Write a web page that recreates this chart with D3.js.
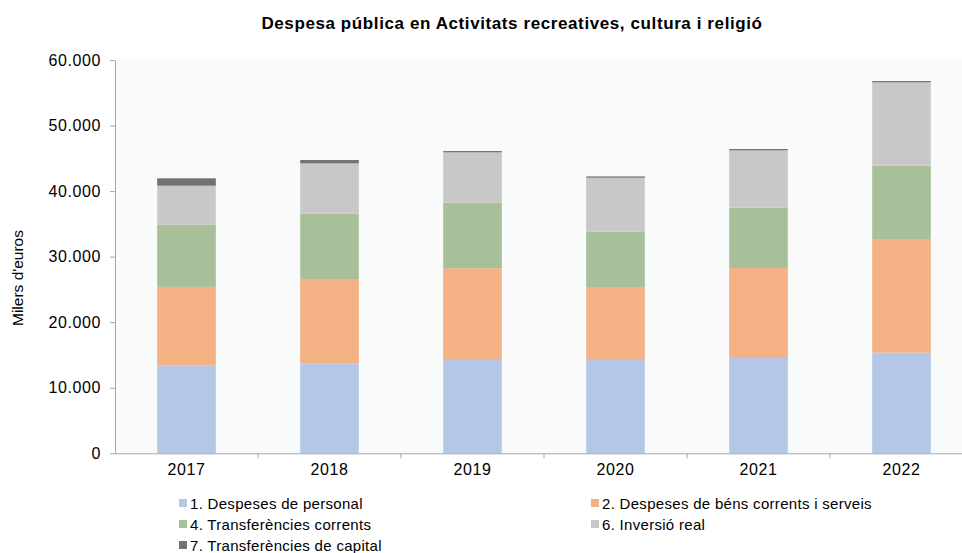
<!DOCTYPE html>
<html>
<head>
<meta charset="utf-8">
<script src="https://cdn.jsdelivr.net/npm/d3@7"></script>
<style>
  body { margin: 0; background: #fff; }
  text { font-family: "Liberation Sans", Arial, sans-serif; fill: #000; }
</style>
</head>
<body>
<svg width="962" height="553"></svg>
<script>
// data (milers d'euros)
const years = ['2017', '2018', '2019', '2020', '2021', '2022'];
const personal = [13450, 13730, 14230, 14230, 14540, 15350];
const bens = [11950, 12860, 13990, 11140, 13730, 17340];
const transfCorrents = [9470, 9960, 10010, 8430, 9200, 11180];
const inversio = [5950, 7680, 7680, 8240, 8750, 12720];
const transfCapital = [1130, 510, 200, 200, 200, 200];
const yTicks = [0, 10000, 20000, 30000, 40000, 50000, 60000];

const seriesNames = [
  '1. Despeses de personal',
  '2. Despeses de béns corrents i serveis',
  '4. Transferències corrents',
  '6. Inversió real',
  '7. Transferències de capital'
];
const colors = ['#b4c7e7', '#f4b183', '#a8c09a', '#c8c8c8', '#767171'];

const rows = years.map((y, i) => ({
  year: y,
  s0: personal[i], s1: bens[i], s2: transfCorrents[i], s3: inversio[i], s4: transfCapital[i]
}));
const keys = ['s0', 's1', 's2', 's3', 's4'];

const svg = d3.select('svg');
const margin = { left: 115, top: 60, bottom: 453.3 };
const plotW = 143 * 6; // runs past the right edge like the reference

const x = d3.scaleBand().domain(years).range([margin.left, margin.left + plotW]).paddingInner(0.59).paddingOuter(0.295);
const y = d3.scaleLinear().domain([0, 60000]).range([margin.bottom, margin.top]);

// plot background
svg.append('rect')
  .attr('x', margin.left).attr('y', margin.top)
  .attr('width', plotW).attr('height', margin.bottom - margin.top)
  .attr('fill', '#f9fbfb');

const stack = d3.stack().keys(keys)(rows);

svg.append('g').selectAll('g')
  .data(stack)
  .join('g')
  .attr('fill', (d, i) => colors[i])
  .selectAll('rect')
  .data(d => d)
  .join('rect')
  .attr('x', d => x(d.data.year))
  .attr('width', x.bandwidth())
  .attr('y', d => y(d[1]))
  .attr('height', d => y(d[0]) - y(d[1]));

// y axis
const fmt = d3.formatLocale({ decimal: ',', thousands: '.', grouping: [3], currency: ['', '€'] }).format(',d');
const yAxis = svg.append('g')
  .attr('transform', `translate(${margin.left},0)`)
  .call(d3.axisLeft(y).tickValues(yTicks).tickFormat(fmt).tickSize(5).tickSizeOuter(0));
yAxis.select('.domain').attr('stroke', '#a6a6a6');
yAxis.selectAll('line').attr('stroke', '#a6a6a6');
yAxis.selectAll('text').attr('font-size', 16).attr('letter-spacing', 0.6).attr('x', -14);

// x axis
const xAxis = svg.append('g')
  .attr('transform', `translate(0,${margin.bottom})`)
  .call(d3.axisBottom(x).tickSize(0).tickSizeOuter(0));
xAxis.select('.domain').attr('stroke', '#a6a6a6');
xAxis.selectAll('text').attr('font-size', 16).attr('letter-spacing', 0.6).attr('dy', '1.2em');

// tick marks between categories
const step = x.step();
svg.append('g').selectAll('line')
  .data(d3.range(1, years.length))
  .join('line')
  .attr('x1', i => margin.left + i * step)
  .attr('x2', i => margin.left + i * step)
  .attr('y1', margin.bottom)
  .attr('y2', margin.bottom + 5)
  .attr('stroke', '#a6a6a6');

// title
svg.append('text')
  .attr('x', 512).attr('y', 29)
  .attr('text-anchor', 'middle')
  .attr('font-size', 17).attr('font-weight', 'bold').attr('letter-spacing', 0.6)
  .text('Despesa pública en Activitats recreatives, cultura i religió');

// y label
svg.append('text')
  .attr('transform', 'translate(23,278) rotate(-90)')
  .attr('text-anchor', 'middle')
  .attr('font-size', 15.5)
  .text("Milers d'euros");

// legend
const legendPos = [[179, 504], [591, 504], [179, 525], [591, 525], [179, 546]];
const legend = svg.append('g').selectAll('g')
  .data(seriesNames)
  .join('g')
  .attr('transform', (d, i) => `translate(${legendPos[i][0]},${legendPos[i][1]})`);
legend.append('rect')
  .attr('x', 0).attr('y', -5).attr('width', 8).attr('height', 8)
  .attr('fill', (d, i) => colors[i]);
legend.append('text')
  .attr('x', 11).attr('y', 0).attr('dy', '0.35em')
  .attr('font-size', 15).attr('letter-spacing', 0.3)
  .text(d => d);
</script>
</body>
</html>
